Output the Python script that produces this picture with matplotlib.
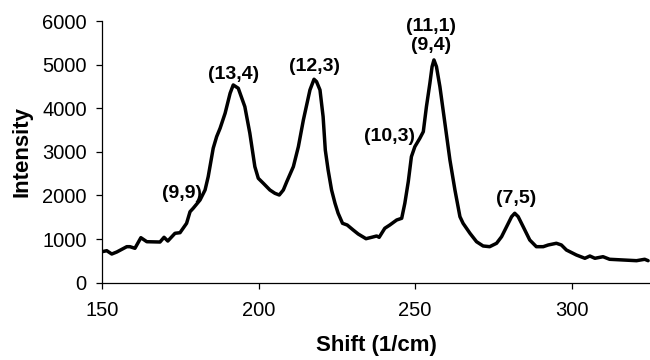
import matplotlib
matplotlib.use("Agg")
import matplotlib.pyplot as plt

plt.rcParams['font.family'] = ['Liberation Sans', 'DejaVu Sans']

# Raman shift (1/cm) and measured intensity
shift = [150.0, 151.5, 153.1, 154.7, 157.9, 158.9, 160.5, 162.4, 164.3, 168.5,
         169.8, 171.0, 173.3, 174.9, 177.0, 178.1, 179.1, 181.3, 182.9, 183.9,
         185.5, 186.6, 187.7, 189.3, 190.9, 191.9, 193.5, 195.6, 197.2, 198.8,
         199.9, 201.5, 203.6, 205.2, 206.6, 207.9, 209.0, 211.1, 212.7, 214.3,
         216.4, 217.7, 218.5, 219.6, 220.6, 221.3, 222.2, 223.3, 224.4, 225.4,
         226.8, 228.3, 230.2, 231.8, 234.3, 236.1, 237.7, 238.5, 240.3, 241.9,
         244.1, 245.7, 246.7, 247.8, 248.8, 249.9, 251.5, 252.6, 253.6, 254.7,
         255.4, 256.0, 256.8, 257.9, 259.5, 261.1, 262.7, 264.3, 265.3, 267.5,
         269.6, 271.7, 273.8, 276.0, 277.6, 279.2, 280.8, 281.8, 282.9, 284.5,
         286.6, 288.7, 290.9, 292.5, 295.1, 296.7, 298.3, 301.5, 304.2, 305.8,
         307.4, 310.0, 312.1, 316.4, 320.7, 323.3, 324.4]
intensity = [711, 734, 658, 704, 826, 826, 789, 1032, 940, 933,
             1041, 956, 1133, 1147, 1362, 1628, 1706, 1897, 2126, 2431,
             3083, 3349, 3541, 3885, 4344, 4534, 4459, 4037, 3427, 2661,
             2394, 2280, 2126, 2050, 2011, 2126, 2317, 2661, 3119, 3732,
             4420, 4665, 4610, 4420, 3807, 3041, 2585, 2126, 1821, 1592,
             1362, 1323, 1209, 1117, 1009, 1041, 1071, 1041, 1248, 1323,
             1438, 1477, 1821, 2317, 2890, 3119, 3312, 3463, 4037, 4573,
             4954, 5108, 4954, 4495, 3656, 2814, 2126, 1514, 1362, 1133,
             940, 842, 826, 904, 1055, 1284, 1514, 1592, 1514, 1284,
             979, 826, 826, 865, 904, 865, 750, 635, 560, 612,
             560, 596, 537, 521, 505, 537, 505]

# Chirality assignments (n,m) and where each is written
peak_labels = ["(9,9)", "(13,4)", "(12,3)", "(10,3)", "(11,1)\n(9,4)", "(7,5)"]
label_x = [175.4, 191.9, 217.7, 241.9, 255.2, 282.1]
label_y = [2050, 4764, 4954, 3349, 5662, 1936]

x_ticks = [150, 200, 250, 300]
y_ticks = [0, 1000, 2000, 3000, 4000, 5000, 6000]

fig = plt.figure(figsize=(6.5, 3.6), dpi=100)
ax = fig.add_axes([0.157, 0.2147, 0.843, 0.7269])

ax.plot(shift, intensity, color='black', linewidth=2.5,
        solid_joinstyle='round', solid_capstyle='round')

for txt, lx, ly in zip(peak_labels, label_x, label_y):
    ax.text(lx, ly, txt, ha='center', va='center', fontsize=14,
            fontweight='bold', linespacing=1.12)

ax.set_xlim(150, 325)
ax.set_ylim(0, 6000)
ax.set_xticks(x_ticks)
ax.set_yticks(y_ticks)

for side in ('top', 'right'):
    ax.spines[side].set_visible(False)
for side in ('left', 'bottom'):
    ax.spines[side].set_linewidth(0.9)

ax.tick_params(axis='both', direction='out', length=4, width=0.9,
               labelsize=14.5, colors='black')
ax.tick_params(axis='x', pad=9)
ax.tick_params(axis='y', pad=7)

ax.set_xlabel('Shift (1/cm)', fontsize=16, fontweight='bold', labelpad=11)
ax.set_ylabel('Intensity', fontsize=16, fontweight='bold', labelpad=7)

fig.savefig('out.png', dpi=100)
